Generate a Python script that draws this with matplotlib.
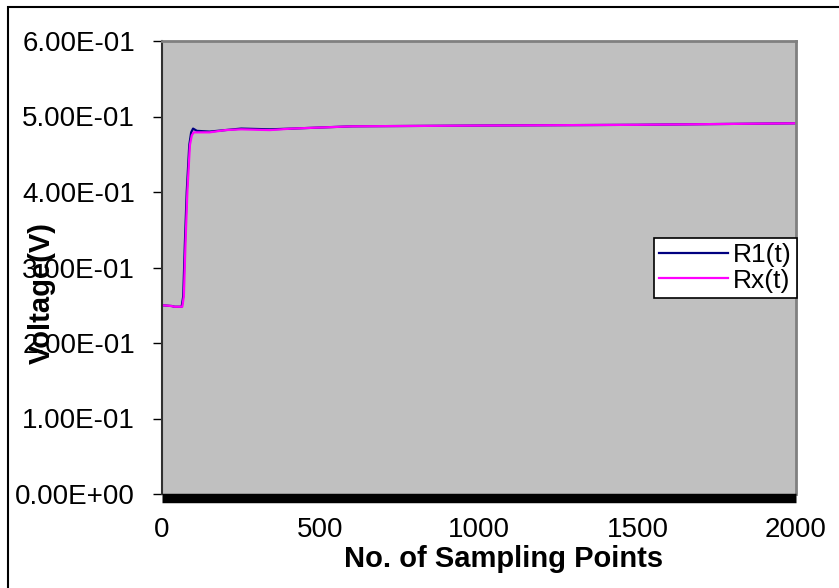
import matplotlib
matplotlib.use("Agg")
import matplotlib.pyplot as plt
from matplotlib.patches import Rectangle
from matplotlib.ticker import FuncFormatter

# values
r1_x = [0, 30, 40, 62, 67, 72, 78, 86, 92, 98, 110, 150, 200, 250, 340, 410, 600, 1000, 1500, 2000]
r1_y = [0.250, 0.249, 0.248, 0.248, 0.262, 0.330, 0.400, 0.462, 0.479, 0.484, 0.481, 0.480,
        0.482, 0.484, 0.483, 0.484, 0.487, 0.488, 0.489, 0.491]
rx_x = [0, 30, 40, 64, 69, 74, 80, 88, 94, 100, 110, 150, 200, 250, 340, 410, 600, 1000, 1500, 2000]
rx_y = [0.250, 0.249, 0.248, 0.248, 0.262, 0.330, 0.400, 0.462, 0.475, 0.479, 0.479, 0.479,
        0.482, 0.483, 0.482, 0.484, 0.487, 0.488, 0.489, 0.491]
x_ticks = [0, 500, 1000, 1500, 2000]
y_ticks = [0.0, 0.1, 0.2, 0.3, 0.4, 0.5, 0.6]

plt.rcParams['font.family'] = ['Liberation Sans', 'DejaVu Sans']

W, H = 839, 588
fig = plt.figure(figsize=(W / 100, H / 100), dpi=100)
fig.patches.append(Rectangle((8 / W, -0.1), 1.2, 1.1 - 7 / H, transform=fig.transFigure,
                             fill=False, edgecolor='black', linewidth=1.5))

ax = fig.add_axes([162 / W, 1 - 494 / H, (796 - 162) / W, (494 - 41) / H])
ax.set_facecolor('#C0C0C0')

ax.plot(r1_x, r1_y, color='#000080', linewidth=1.6, label='R1(t)')
ax.plot(rx_x, rx_y, color='#FF00FF', linewidth=1.6, label='Rx(t)')

ax.set_xlim(0, 2000)
ax.set_ylim(0, 0.6)
ax.set_xticks(x_ticks)
ax.set_yticks(y_ticks)
ax.yaxis.set_major_formatter(FuncFormatter(lambda v, p: f"{v:.2E}"))

for s in ['top', 'right']:
    ax.spines[s].set_color('#808080')
    ax.spines[s].set_linewidth(2)
ax.spines['left'].set_color('#303030')
ax.spines['left'].set_linewidth(1.5)
ax.spines['bottom'].set_color('black')
ax.spines['bottom'].set_linewidth(6.8)
ax.spines['bottom'].set_capstyle('butt')
ax.spines['bottom'].set_position(('outward', 3.2))

ax.tick_params(axis='y', direction='out', length=6.5, width=1, pad=13, labelsize=20)
ax.tick_params(axis='x', length=0, pad=13.5, labelsize=20)

fig.text(504 / W, 1 - 567 / H, 'No. of Sampling Points', ha='center', va='baseline',
         fontsize=21, fontweight='bold')
fig.text(42 / W, 1 - 293 / H, 'Voltage(V)', ha='center', va='center', rotation=90,
         fontsize=21, fontweight='bold')

leg = ax.legend(loc='upper right', bbox_to_anchor=(797 / W, 1 - 238 / H),
                bbox_transform=fig.transFigure, fontsize=19, frameon=True, fancybox=False,
                borderpad=0.2, labelspacing=0.05, handlelength=2.6, handletextpad=0.2,
                borderaxespad=0)
leg.get_frame().set_edgecolor('black')
leg.get_frame().set_facecolor('white')
leg.get_frame().set_alpha(1)
leg.get_frame().set_linewidth(1.2)

fig.savefig('out.png', dpi=100)
